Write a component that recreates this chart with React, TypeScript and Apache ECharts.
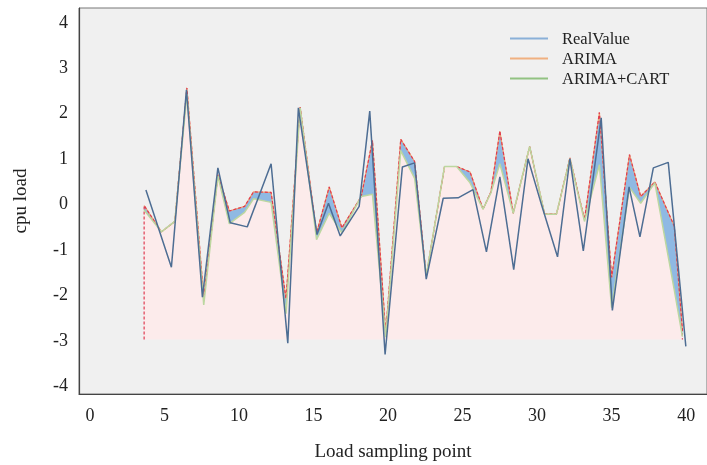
import React, { useEffect, useRef } from "react";
import * as echarts from "echarts";

// Real load values (blue line)
const realX = [3.75, 5.46, 6.47, 7.54, 8.58, 9.41, 10.55, 12.15, 13.27, 13.98, 15.23, 16.0, 16.79, 18.06, 18.77, 19.8, 20.96, 21.78, 22.56, 23.7, 24.7, 25.7, 26.6, 27.5, 28.43, 29.39, 30.3, 31.37, 32.2, 33.1, 34.3, 35.05, 36.17, 36.9, 37.8, 38.8, 39.98];
const realY = [0.29, -1.41, 2.5, -2.07, 0.78, -0.43, -0.52, 0.87, -3.08, 2.1, -0.69, 0.0, -0.72, -0.07, 2.03, -3.33, 0.8, 0.89, -1.67, 0.11, 0.12, 0.3, -1.07, 0.58, -1.46, 0.98, -0.04, -1.18, 0.98, -1.05, 1.88, -2.36, 0.36, -0.74, 0.78, 0.9, -3.15];

// Predictions (shared x positions)
const predX = [3.63, 4.79, 5.69, 6.5, 7.63, 8.58, 9.35, 10.37, 10.97, 12.15, 13.15, 14.1, 15.2, 16.05, 16.9, 18.2, 18.95, 19.84, 20.85, 21.78, 22.56, 23.79, 24.6, 25.5, 26.37, 26.9, 27.5, 28.4, 29.5, 30.5, 31.3, 32.2, 33.18, 34.18, 35.0, 36.2, 36.95, 37.9, 39.2, 39.75];
const arimaY = [-0.05, -0.63, -0.4, 2.54, -2.1, 0.63, -0.17, -0.07, 0.25, 0.24, -2.1, 2.12, -0.66, 0.36, -0.54, 0.15, 1.38, -2.86, 1.41, 0.92, -1.6, 0.81, 0.81, 0.69, -0.13, 0.25, 1.59, -0.22, 1.25, -0.24, -0.24, 1.0, -0.36, 2.0, -1.63, 1.07, 0.15, 0.47, -0.5, -2.79];
const cartY = [-0.15, -0.63, -0.4, 2.4, -2.24, 0.6, -0.45, -0.2, 0.1, 0.02, -2.43, 2.1, -0.8, -0.22, -0.65, 0.15, 0.2, -2.95, 1.16, 0.55, -1.6, 0.81, 0.81, 0.45, -0.13, 0.23, 0.87, -0.22, 1.25, -0.24, -0.24, 0.98, -0.4, 0.85, -2.3, 0.35, 0.0, 0.45, -1.9, -2.93];

const FILL_BASE = -3;
const xTicks = [0, 5, 10, 15, 20, 25, 30, 35, 40];
const yTicks = [-4, -3, -2, -1, 0, 1, 2, 3, 4];

const FONT = "'Liberation Serif', 'Times New Roman', serif";

export default function App() {
  const ref = useRef<HTMLDivElement>(null);
  useEffect(() => {
    document.body.style.margin = "0";
    const chart = echarts.init(ref.current!, null, { renderer: "svg" });
    const n = predX.length;
    const arimaData = predX.map((x, i) => [x, arimaY[i]]);
    const cartData = predX.map((x, i) => [x, cartY[i]]);
    const realData = realX.map((x, i) => [x, realY[i]]);
    const edgeData = [[predX[0], FILL_BASE], ...arimaData, [predX[n - 1], FILL_BASE]];

    const option: any = {
      animation: false,
      grid: {
        left: 79,
        top: 8,
        right: -2,
        bottom: 67,
        show: true,
        backgroundColor: "#f0f0f0",
        borderColor: "#777",
        borderWidth: 1,
      },
      legend: {
        orient: "vertical",
        left: 510,
        top: 30,
        padding: 0,
        icon: "rect",
        itemWidth: 38,
        itemHeight: 2,
        itemGap: 3,
        textStyle: { fontFamily: FONT, fontSize: 16.5, color: "#222", padding: [0, 0, 0, 9] },
        data: [
          { name: "RealValue", itemStyle: { color: "#8ab0d8" } },
          { name: "ARIMA", itemStyle: { color: "#f0b080" } },
          { name: "ARIMA+CART", itemStyle: { color: "#92c282" } },
        ],
      },
      xAxis: {
        type: "value",
        min: -0.74,
        max: 41.4,
        name: "Load sampling point",
        nameLocation: "middle",
        nameGap: 47,
        nameTextStyle: { fontFamily: FONT, fontSize: 19, color: "#222" },
        axisLine: { show: true, onZero: false, lineStyle: { color: "#444", width: 1.2 } },
        axisTick: { show: false },
        splitLine: { show: false },
        axisLabel: {
          customValues: xTicks,
          fontFamily: FONT,
          fontSize: 18,
          color: "#222",
          margin: 12,
        },
      },
      yAxis: {
        type: "value",
        min: -4.2,
        max: 4.3,
        name: "cpu load",
        nameLocation: "middle",
        nameGap: 50,
        nameTextStyle: { fontFamily: FONT, fontSize: 19, color: "#222" },
        axisLine: { show: true, onZero: false, lineStyle: { color: "#444", width: 1.2 } },
        axisTick: { show: false },
        splitLine: { show: false },
        axisLabel: {
          customValues: yTicks,
          fontFamily: FONT,
          fontSize: 18,
          color: "#222",
          margin: 11,
        },
      },
      series: [
        {
          type: "custom",
          name: "fill",
          silent: true,
          clip: true,
          data: [[predX[0], FILL_BASE]],
          renderItem: (params: any, api: any) => {
            const pts = [
              api.coord([predX[0], FILL_BASE]),
              ...predX.map((x, i) => api.coord([x, arimaY[i]])),
              api.coord([predX[n - 1], FILL_BASE]),
            ];
            return { type: "polygon", shape: { points: pts }, style: { fill: "#fcebeb" } };
          },
        },
        {
          type: "custom",
          name: "diff",
          silent: true,
          clip: true,
          data: [[predX[0], arimaY[0]]],
          renderItem: (params: any, api: any) => {
            const top = predX.map((x, i) => api.coord([x, arimaY[i]]));
            const bot = predX.map((x, i) => api.coord([x, Math.min(cartY[i], arimaY[i])])).reverse();
            return { type: "polygon", shape: { points: [...top, ...bot] }, style: { fill: "#8fb9e3" } };
          },
        },
        {
          type: "line",
          name: "ARIMA",
          data: arimaData,
          symbol: "none",
          lineStyle: { color: "#f0a070", width: 1.2 },
          itemStyle: { color: "#f0b080" },
        },
        {
          type: "line",
          name: "edge",
          data: edgeData,
          symbol: "none",
          silent: true,
          lineStyle: { color: "#e03a50", width: 1.2, type: [3, 2] },
        },
        {
          type: "line",
          name: "ARIMA+CART",
          data: cartData,
          symbol: "none",
          lineStyle: { color: "#bcd7a0", width: 1.5 },
          itemStyle: { color: "#92c282" },
        },
        {
          type: "line",
          name: "RealValue",
          data: realData,
          symbol: "none",
          lineStyle: { color: "#4d6d93", width: 1.5 },
          itemStyle: { color: "#8ab0d8" },
        },
      ],
    };
    chart.setOption(option);
    return () => chart.dispose();
  }, []);
  return <div ref={ref} style={{ position: "fixed", left: 0, top: 0, width: 707, height: 465 }} />;
}
